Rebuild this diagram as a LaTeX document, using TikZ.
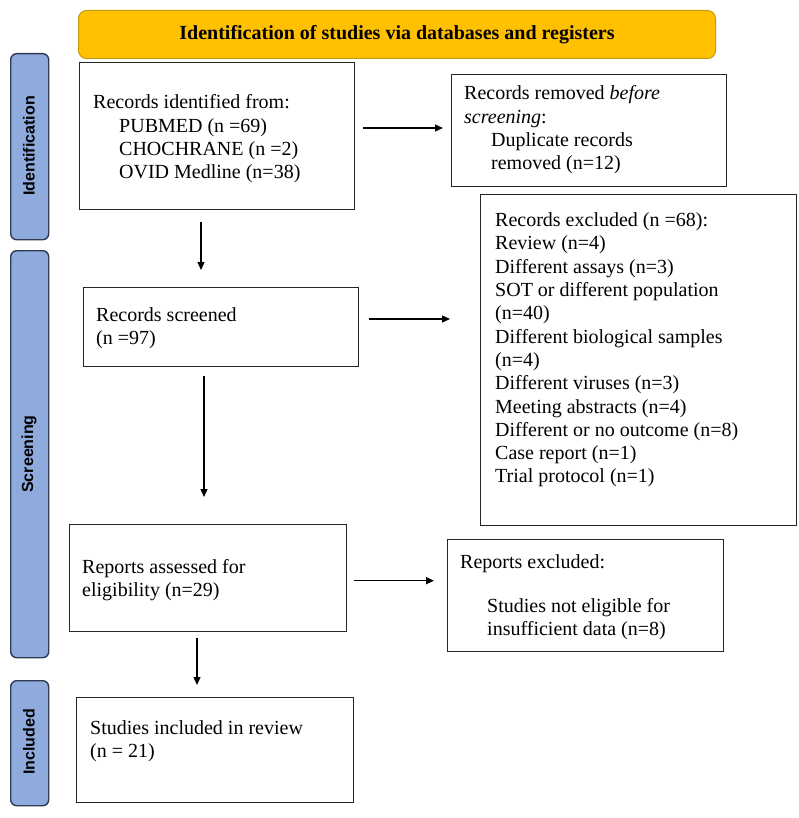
\documentclass[tikz,border=0pt]{standalone}
\usepackage{fontspec}
\setmainfont{Liberation Serif}
\newfontfamily\barfont{Liberation Sans}
\usetikzlibrary{arrows.meta,calc}
\definecolor{hdrfill}{HTML}{FFC000}
\definecolor{hdrline}{HTML}{C49A10}
\definecolor{barfill}{HTML}{8FAADC}
\definecolor{barline}{HTML}{2E3B52}
\begin{document}
\begin{tikzpicture}[x=1pt,y=-1pt,
  box/.style={draw=black!85, line width=1.4pt, rectangle, inner sep=0pt, anchor=north west, fill=white},
  txt/.style={anchor=west, align=left, inner sep=0pt, font=\fontsize{20}{23.3}\selectfont},
  hdr/.style={draw=hdrline, fill=hdrfill, line width=1pt, rounded corners=8pt, rectangle, inner sep=0pt, anchor=north west, font=\fontsize{20}{24}\selectfont\bfseries},
  bar/.style={draw=barline, fill=barfill, line width=1.4pt, rounded corners=6pt, rectangle, inner sep=0pt, anchor=north west, minimum width=38pt},
  barlabel/.style={rotate=90, inner sep=0pt, font=\barfont\bfseries\fontsize{16}{18}\selectfont},
  arr/.style={-{Triangle[length=8pt,width=7pt]}, line width=1.3pt}
]
\useasboundingbox (0,0) rectangle (798,818);

% header
\node[hdr, minimum width=637pt, minimum height=48pt] (hdr) at (78,10) {Identification of studies via databases and registers};

% side bars
\node[bar, minimum height=186pt] (barid) at (10,53) {};
\node[barlabel] (lid) at (29,146) {Identification};
\node[bar, minimum height=407pt] (barsc) at (10,250) {};
\node[barlabel] (lsc) at (29,454) {Screening};
\node[bar, minimum height=125pt] (barin) at (10,680) {};
\node[barlabel] (lin) at (29,742) {Included};

% boxes
\node[box, minimum width=275pt, minimum height=147pt] (b1) at (79,62) {};
\node[box, minimum width=275pt, minimum height=112pt] (rm) at (451,74) {};
\node[box, minimum width=316pt, minimum height=331pt] (ex) at (480,194) {};
\node[box, minimum width=275pt, minimum height=79pt] (sc) at (83,287) {};
\node[box, minimum width=277pt, minimum height=107pt] (as) at (69,524) {};
\node[box, minimum width=276pt, minimum height=112pt] (re) at (447,539) {};
\node[box, minimum width=277pt, minimum height=105pt] (in) at (76,697) {};

% texts
\node[txt] (t1) at (93,139) {Records identified from:\\\hspace*{26pt}PUBMED (n =69)\\\hspace*{26pt}CHOCHRANE (n =2)\\\hspace*{26pt}OVID Medline (n=38)};
\node[txt] (trm) at (464,130) {Records removed \textit{before}\\\textit{screening}:\\\hspace*{27pt}Duplicate records\\\hspace*{27pt}removed (n=12)};
\node[txt] (tex) at (495,350) {Records excluded (n =68):\\Review (n=4)\\Different assays (n=3)\\SOT or different population\\(n=40)\\Different biological samples\\(n=4)\\Different viruses (n=3)\\Meeting abstracts (n=4)\\Different or no outcome (n=8)\\Case report (n=1)\\Trial protocol (n=1)};
\node[txt] (tsc) at (96,328) {Records screened\\(n =97)};
\node[txt] (tas) at (82,580) {Reports assessed for\\eligibility (n=29)};
\node[txt] (tre) at (460,597) {Reports excluded:\\[21pt]\hspace*{27pt}Studies not eligible for\\\hspace*{27pt}insufficient data (n=8)};
\node[txt] (tin) at (90,741) {Studies included in review\\(n = 21)};

% arrows
\draw[arr] ($(b1.north east)+(8,66)$) -- ($(rm.north west)+(-8,54)$);
\draw[arr] ($(b1.south west)+(122,12)$) -- ($(sc.north west)+(118,-17)$);
\draw[arr] ($(sc.north east)+(10,32)$) -- ($(ex.west |- sc.north east)+(-30,32)$);
\draw[arr] ($(sc.south west)+(121,9)$) -- ($(as.north west)+(135,-27)$);
\draw[arr] ($(as.east)+(7,2.5)$) -- ($(re.west |- as.east)+(-13,2.5)$);
\draw[arr] ($(as.south west)+(128,6)$) -- ($(in.north west)+(121,-12)$);
\end{tikzpicture}
\end{document}
